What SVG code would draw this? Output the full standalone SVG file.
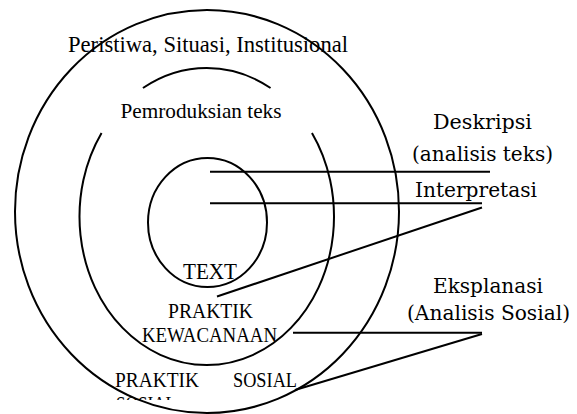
<svg xmlns="http://www.w3.org/2000/svg" width="577" height="414" viewBox="0 0 577 414">
  <style>
    .ring { fill: none; stroke: #000; stroke-width: 2; }
    .conn { fill: none; stroke: #000; stroke-width: 2; stroke-linecap: butt; }
    .tnr { font-family: "Liberation Serif", "Times New Roman", serif; fill: #000; }
    .cam { font-family: "DejaVu Serif", "Liberation Serif", serif; fill: #000; font-size: 19.5px; }
  </style>
  <defs>
    <clipPath id="clipBottom">
      <rect x="0" y="0" width="577" height="400"/>
    </clipPath>
  </defs>
  <rect x="0" y="0" width="577" height="414" fill="#fff"/>

  <g id="node-outer">
    <ellipse class="ring" cx="207" cy="211.5" rx="192" ry="201.5"/>
    <text class="tnr" x="68" y="51.5" font-size="22.5" textLength="280" lengthAdjust="spacingAndGlyphs">Peristiwa, Situasi, Institusional</text>
    <text class="tnr" x="115" y="387" font-size="21" textLength="84" lengthAdjust="spacingAndGlyphs">PRAKTIK</text>
    <text class="tnr" x="233" y="387" font-size="21" textLength="64" lengthAdjust="spacingAndGlyphs">SOSIAL</text>
    <text class="tnr" x="116" y="411" font-size="21" textLength="60" lengthAdjust="spacingAndGlyphs" clip-path="url(#clipBottom)">SOSIAL</text>
  </g>

  <g id="node-middle">
    <path class="ring" d="M142.95,88 A127.25,148.5 0 0 1 270.55,88 M311.95,133 A127.25,148.5 0 1 1 101.55,133"/>
    <text class="tnr" x="120.5" y="118" font-size="21.5" textLength="161" lengthAdjust="spacingAndGlyphs">Pemroduksian teks</text>
    <text class="tnr" x="168" y="318" font-size="22" textLength="85" lengthAdjust="spacingAndGlyphs">PRAKTIK</text>
    <text class="tnr" x="142" y="342" font-size="21" textLength="135" lengthAdjust="spacingAndGlyphs">KEWACANAAN</text>
  </g>

  <g id="node-inner">
    <ellipse class="ring" cx="207.5" cy="222.5" rx="59.5" ry="64.5"/>
    <text class="tnr" x="183" y="279" font-size="24" textLength="54" lengthAdjust="spacingAndGlyphs">TEXT</text>
  </g>

  <g id="label-deskripsi">
    <text class="cam" x="433" y="129" textLength="99" lengthAdjust="spacingAndGlyphs">Deskripsi</text>
    <text class="cam" x="412" y="160.5" textLength="141" lengthAdjust="spacingAndGlyphs">(analisis teks)</text>
  </g>

  <g id="label-interpretasi">
    <text class="cam" x="415" y="196.7" textLength="122" lengthAdjust="spacingAndGlyphs">Interpretasi</text>
  </g>

  <g id="label-eksplanasi">
    <text class="cam" x="433" y="293.3" textLength="110" lengthAdjust="spacingAndGlyphs">Eksplanasi</text>
    <text class="cam" x="407" y="320" textLength="163" lengthAdjust="spacingAndGlyphs">(Analisis Sosial)</text>
  </g>

  <g id="connectors">
    <line class="conn" x1="210" y1="171.7" x2="490" y2="171.7"/>
    <line class="conn" x1="210" y1="203.3" x2="482" y2="203.3"/>
    <line class="conn" x1="482" y1="207.5" x2="217" y2="296.5"/>
    <line class="conn" x1="293" y1="332.7" x2="482" y2="332.7"/>
    <line class="conn" x1="482" y1="334" x2="295" y2="390"/>
  </g>
</svg>
